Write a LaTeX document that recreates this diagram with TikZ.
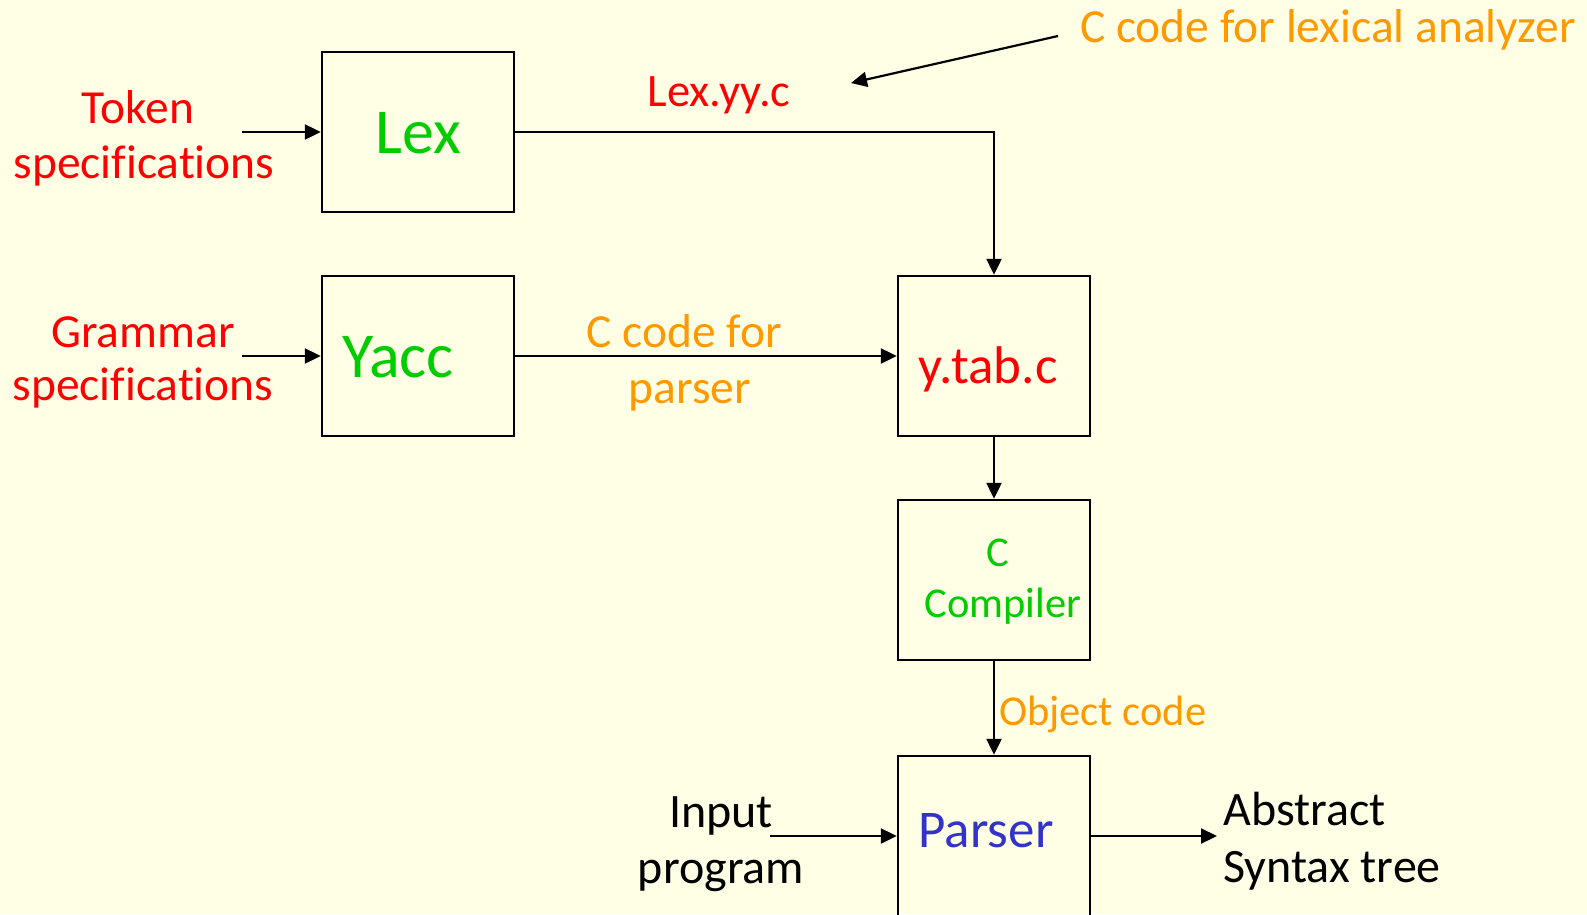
\documentclass[tikz,border=0pt]{standalone}
\usepackage{fontspec}
\setmainfont{Carlito}[Ligatures=NoCommon]
\usetikzlibrary{arrows.meta}
\definecolor{bgyellow}{RGB}{255,255,230}
\definecolor{tred}{RGB}{255,0,0}
\definecolor{tgreen}{RGB}{0,204,0}
\definecolor{torange}{RGB}{255,153,0}
\definecolor{tblue}{RGB}{51,51,204}
\newcommand{\fs}[1]{\fontsize{#1}{1.2\dimexpr#1pt\relax}\selectfont}
\begin{document}
\begin{tikzpicture}[x=1pt,y=-1pt,
  procbox/.style={draw=black,line width=2.4pt,minimum width=192pt,minimum height=160pt,inner sep=0pt},
  txt/.style={inner sep=0pt,anchor=base},
  txtl/.style={inner sep=0pt,anchor=base west},
  flow/.style={line width=2.2pt,-{Triangle[length=16pt,width=15pt]}}]
  \useasboundingbox (0,0) rectangle (1587,914);
  \fill[bgyellow] (0,0) rectangle (1587,914);
  \clip (0,0) rectangle (1587,914);

  % process boxes
  \node[procbox] (lex)    at (418,132) {};
  \node[procbox] (yacc)   at (418,356) {};
  \node[procbox] (ytab)   at (994,356) {};
  \node[procbox] (cc)     at (994,580) {};
  \node[procbox] (parser) at (994,836) {};

  % box captions
  \node[txt,text=tgreen,font=\fs{64}] (lextxt)  at (418,153) {Lex};
  \node[txt,text=tgreen,font=\fs{64}] (yacctxt) at (398,377) {Yacc};
  \node[txt,text=tred,font=\fs{53}]   (ytabtxt) at (988,383) {y.tab.c};
  \node[txt,text=tgreen,font=\fs{42.5}] (cctxta)  at (998,566) {C};
  \node[txt,text=tgreen,font=\fs{42.5}] (cctxtb)  at (1003,617) {Compiler};
  \node[txt,text=tblue,font=\fs{53}]  (partxt)  at (986,847) {Parser};

  % inputs
  \node[txt,text=tred,font=\fs{47.5}] (tokA) at (138,123) {Token};
  \node[txt,text=tred,font=\fs{47.5}] (tokB) at (144,178) {specifications};
  \node[txt,text=tred,font=\fs{47.5}] (grA)  at (143,347) {Grammar};
  \node[txt,text=tred,font=\fs{47.5}] (grB)  at (143,400) {specifications};
  \node[txt,font=\fs{48}] (inA) at (721,827) {Input};
  \node[txt,font=\fs{48}] (inB) at (721,883) {program};
  \node[txtl,font=\fs{48}] (astA) at (1223,825) {Abstract};
  \node[txtl,font=\fs{48}] (astB) at (1223,882) {Syntax tree};

  % connector labels
  \node[txt,text=tred,font=\fs{46.5}]  (lexyy) at (719,106) {Lex.yy.c};
  \node[txt,text=torange,font=\fs{47.5}] (cnote) at (1328,42) {C code for lexical analyzer};
  \node[txt,text=torange,font=\fs{47.5}] (cpA)   at (684,347) {C code for};
  \node[txt,text=torange,font=\fs{47.5}] (cpB)   at (690,403) {parser};
  \node[txtl,text=torange,font=\fs{42.5}] (obj)  at (999,725) {Object code};

  % free ends of connectors
  \coordinate (tokin) at (242,132);
  \coordinate (grin)  at (242,356);
  \coordinate (inp)   at (770,836);
  \coordinate (ast)   at (1217,836);
  \coordinate (notefrom) at (1058,36);
  \coordinate (noteto)   at (851,83);

  % connectors
  \draw[flow] (tokin) -- (lex.west);
  \draw[flow] (grin) -- (yacc.west);
  \draw[flow] (lex.east) -| (ytab.north);
  \draw[flow] (yacc.east) -- (ytab.west);
  \draw[flow] (ytab.south) -- (cc.north);
  \draw[flow] (cc.south) -- (parser.north);
  \draw[flow] (inp) -- (parser.west);
  \draw[flow] (parser.east) -- (ast);
  \draw[flow] (notefrom) -- (noteto);
\end{tikzpicture}
\end{document}
